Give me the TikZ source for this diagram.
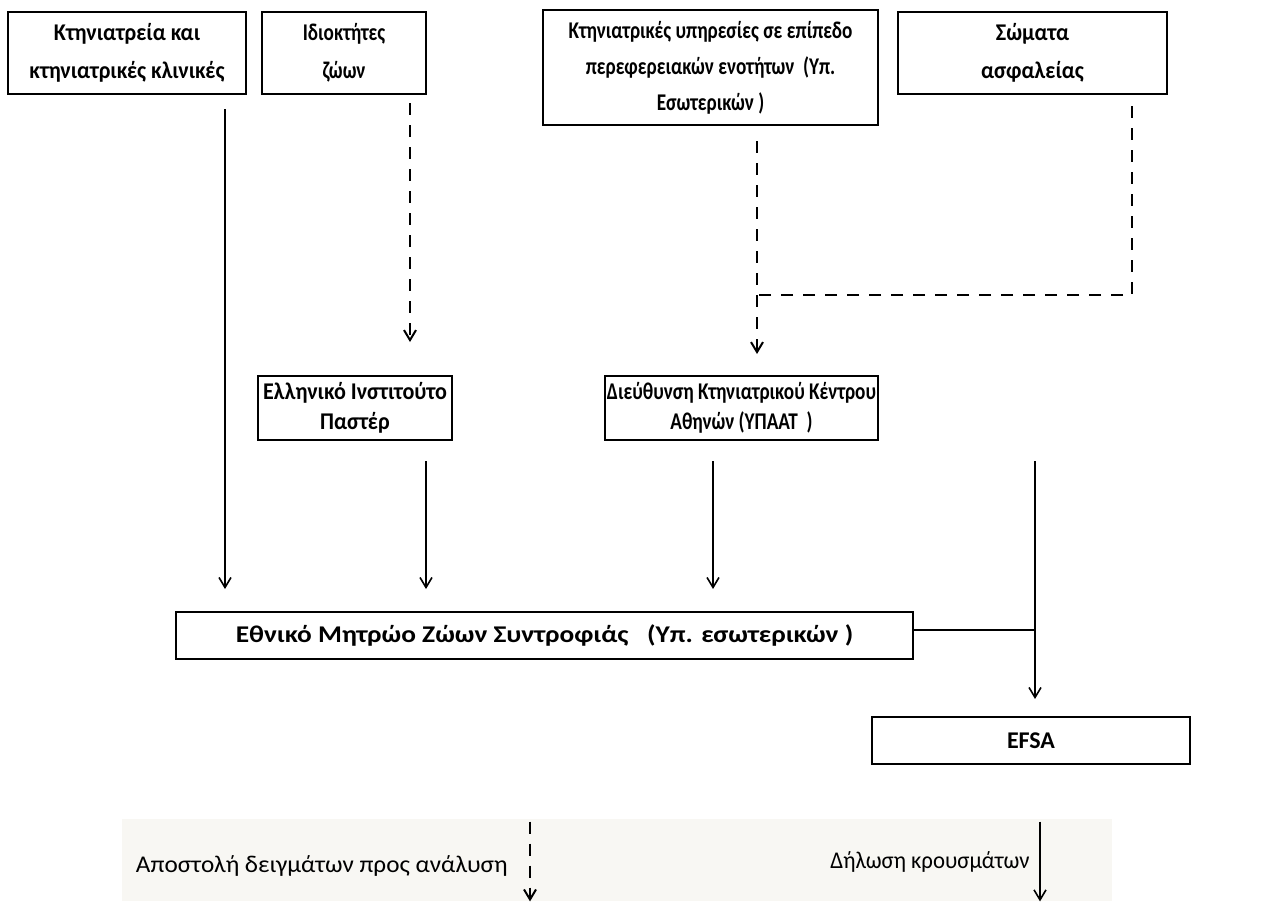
\documentclass[tikz,border=0pt]{standalone}
\usepackage{fontspec}
\setmainfont{Carlito}
\newfontfamily\condfont{Carlito}[FakeStretch=0.8]
\newfontfamily\semifont{Carlito}[FakeStretch=0.92]
\newfontfamily\widefont{Carlito}[FakeStretch=1.14]
\newfontfamily\legfont{Carlito}[FakeStretch=1.05]
\newfontfamily\legnarrow{Carlito}[FakeStretch=0.95]
\usetikzlibrary{positioning,arrows.meta,calc}
\definecolor{bandbg}{HTML}{F8F7F3}

\begin{document}
\begin{tikzpicture}[x=0.5pt,y=-0.5pt,
  font=\fontsize{12}{15}\selectfont,
  box/.style={draw=black,line width=1pt,fill=white,align=center,inner sep=0pt,font=\fontsize{12}{15}\selectfont\bfseries},
  cond/.style={font=\fontsize{12}{15}\condfont\bfseries},
  semi/.style={font=\fontsize{12}{15}\semifont\bfseries},
  wide/.style={font=\fontsize{12}{15}\widefont\bfseries},
  arr/.style={-{Straight Barb[length=5pt,width=6pt]},line width=0.8pt},
  darr/.style={arr,dash pattern=on 6pt off 5pt,line width=1pt},
  dline/.style={dash pattern=on 6pt off 5pt,line width=1pt},
  lab/.style={anchor=east,inner sep=0pt}]
  \useasboundingbox (0,0) rectangle (1264,901);
  % columns of the connectors
  \coordinate (colvets) at (225,0);
  \coordinate (colown) at (410,0);
  \coordinate (colreg) at (757,0);
  \coordinate (colsafe) at (1132,0);
  \coordinate (colpast) at (426,0);
  \coordinate (colkk) at (713,0);
  \coordinate (colefsa) at (1035,0);
  \coordinate (join) at (757,295);
  % sources
  \node[box,semi,minimum width=119pt,minimum height=41pt] (vets) at (127,53) {Κτηνιατρεία και\\[4pt]κτηνιατρικές κλινικές};
  \node[box,cond,minimum width=82pt,minimum height=41pt] (owners) at (344,53) {Ιδιοκτήτες\\[4pt]ζώων};
  \node[box,cond,minimum width=167.5pt,minimum height=57.5pt] (regional) at (710.5,67.5) {Κτηνιατρικές υπηρεσίες σε επίπεδο\\[3pt]περεφερειακών ενοτήτων~~(Υπ.\\[3pt]Εσωτερικών~)};
  \node[box,semi,minimum width=134.5pt,minimum height=41pt] (safety) at (1032.5,53) {Σώματα\\[4pt]ασφαλείας};
  % middle row
  \node[box,semi,minimum width=97pt,minimum height=32pt] (pasteur) at (355,408) {Ελληνικό Ινστιτούτο\\Παστέρ};
  \node[box,cond,minimum width=136.5pt,minimum height=32pt] (kkath) at (741.5,408) {Διεύθυνση Κτηνιατρικού Κέντρου\\Αθηνών (ΥΠΑΑΤ~~)};
  % registry and EFSA
  \node[box,wide,minimum width=368.5pt,minimum height=23.5pt] (registry) at (544.5,635.5) {Εθνικό Μητρώο Ζώων Συντροφιάς~~~(Υπ. εσωτερικών~)};
  \node[box,minimum width=159pt,minimum height=23.5pt] (efsa) at (1031,740.5) {EFSA};
  % legend band
  \node[fill=bandbg,minimum width=495pt,minimum height=41pt,inner sep=0pt] (band) at (617,860) {};
  \coordinate (colsend) at (530,0);
  \coordinate (coldecl) at (1040,0);
  \node[lab,font=\fontsize{12}{15}\legfont] (sendlab) at (508,866) {Αποστολή δειγμάτων προς ανάλυση};
  \node[lab,font=\fontsize{12}{15}\legnarrow] (decllab) at (1030,862) {Δήλωση κρουσμάτων};
  % connectors
  \draw[arr,shorten <=7pt,shorten >=11pt] (vets.south -| colvets) -- (registry.north -| colvets);
  \draw[darr,shorten <=4pt,shorten >=16.5pt] (owners.south -| colown) -- (pasteur.north -| colown);
  \draw[darr,shorten <=7.5pt,shorten >=10.5pt] (regional.south -| colreg) -- (kkath.north -| colreg);
  \draw[dline,shorten <=5.5pt] (safety.south -| colsafe) |- (join);
  \draw[arr,shorten <=10pt,shorten >=11pt] (pasteur.south -| colpast) -- (registry.north -| colpast);
  \draw[arr,shorten <=10pt,shorten >=11pt] (kkath.south -| colkk) -- (registry.north -| colkk);
  \draw[arr,shorten <=10pt,shorten >=8.5pt] (kkath.south -| colefsa) -- (efsa.north -| colefsa);
  \coordinate (regout) at ($(registry.east)+(0,-6)$);
  \draw[line width=1pt] (regout) -- (regout -| colefsa);
  \draw[darr,shorten <=1.5pt] (band.north -| colsend) -- (band.south -| colsend);
  \draw[arr,shorten <=1.5pt] (band.north -| coldecl) -- (band.south -| coldecl);
\end{tikzpicture}
\end{document}
